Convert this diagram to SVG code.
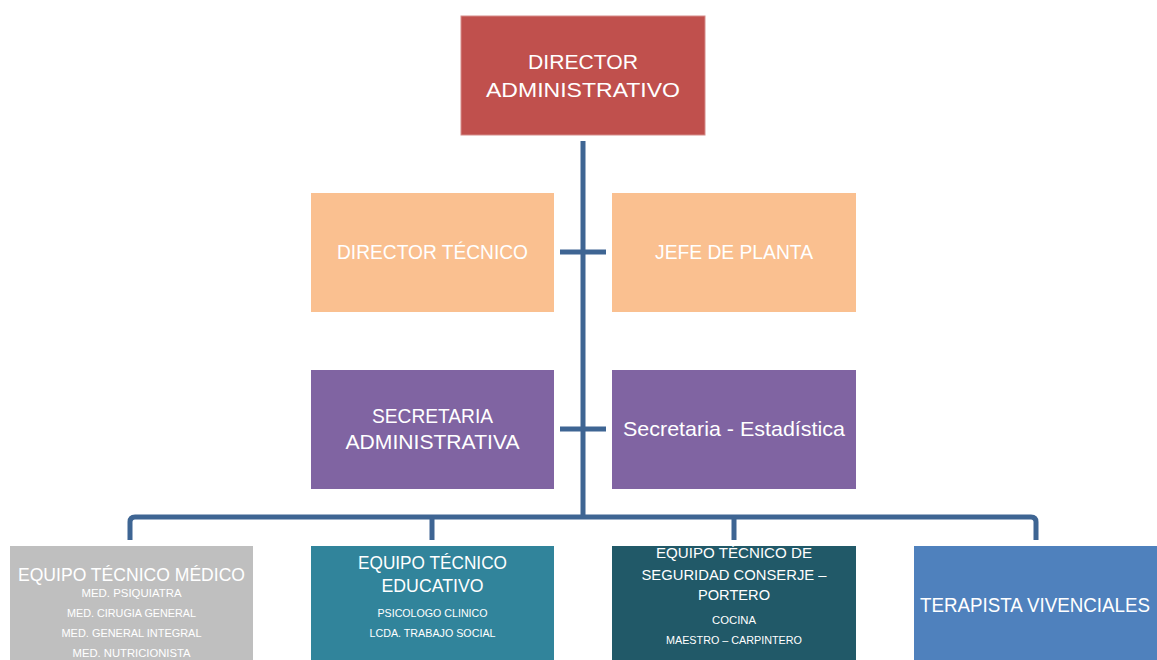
<svg xmlns="http://www.w3.org/2000/svg" width="1157" height="660" viewBox="0 0 1157 660">
<style>
text{font-family:"Liberation Sans",Arial,sans-serif;fill:#fff;text-anchor:middle}
.big{font-size:21px}
.mid{font-size:19px}
.sm{font-size:11.5px}
.ln{fill:none;stroke:#3E6593;stroke-width:5}
</style>
<rect width="1157" height="660" fill="#fff"/>
<g id="connectors">
<line class="ln" x1="583" y1="141" x2="583" y2="517"/>
<line class="ln" x1="560" y1="252" x2="606" y2="252"/>
<line class="ln" x1="560" y1="429" x2="606" y2="429"/>
<path class="ln" stroke-width="4" d="M130,540 V522 Q130,517 135,517 H1031 Q1036,517 1036,522 V540 M432,517 V540 M734,517 V540"/>
</g>
<g id="director-administrativo">
<rect x="461" y="16" width="244" height="119" fill="#C0504D" stroke="#D58C8A" stroke-width="1"/>
<text class="big" x="583" y="69" textLength="110" lengthAdjust="spacingAndGlyphs">DIRECTOR</text>
<text class="big" x="583" y="97" textLength="194" lengthAdjust="spacingAndGlyphs">ADMINISTRATIVO</text>
</g>
<g id="director-tecnico">
<rect x="311" y="193" width="243" height="119" fill="#FAC090"/>
<text class="big" x="432.5" y="259" textLength="191" lengthAdjust="spacingAndGlyphs">DIRECTOR TÉCNICO</text>
</g>
<g id="jefe-de-planta">
<rect x="612" y="193" width="244" height="119" fill="#FAC090"/>
<text class="big" x="734" y="259" textLength="158" lengthAdjust="spacingAndGlyphs">JEFE DE PLANTA</text>
</g>
<g id="secretaria-administrativa">
<rect x="311" y="370" width="243" height="119" fill="#8064A2"/>
<text class="big" x="432.5" y="423" textLength="121" lengthAdjust="spacingAndGlyphs">SECRETARIA</text>
<text class="big" x="432.5" y="449" textLength="174" lengthAdjust="spacingAndGlyphs">ADMINISTRATIVA</text>
</g>
<g id="secretaria-estadistica">
<rect x="612" y="370" width="244" height="119" fill="#8064A2"/>
<text class="big" x="734" y="436" textLength="222" lengthAdjust="spacingAndGlyphs">Secretaria - Estadística</text>
</g>
<g id="equipo-tecnico-medico">
<rect x="10" y="546" width="243" height="114" fill="#BFBFBF"/>
<text class="mid" x="131.5" y="581" textLength="227" lengthAdjust="spacingAndGlyphs">EQUIPO TÉCNICO MÉDICO</text>
<text class="sm" x="131.5" y="597" textLength="100" lengthAdjust="spacingAndGlyphs">MED. PSIQUIATRA</text>
<text class="sm" x="131.5" y="617" textLength="129" lengthAdjust="spacingAndGlyphs">MED. CIRUGIA GENERAL</text>
<text class="sm" x="131.5" y="637" textLength="140" lengthAdjust="spacingAndGlyphs">MED. GENERAL INTEGRAL</text>
<text class="sm" x="131.5" y="657" textLength="118" lengthAdjust="spacingAndGlyphs">MED. NUTRICIONISTA</text>
</g>
<g id="equipo-tecnico-educativo">
<rect x="311" y="546" width="243" height="114" fill="#31849B"/>
<text class="mid" x="432.5" y="569" textLength="149" lengthAdjust="spacingAndGlyphs">EQUIPO TÉCNICO</text>
<text class="mid" x="432.5" y="592" textLength="102" lengthAdjust="spacingAndGlyphs">EDUCATIVO</text>
<text class="sm" x="432.5" y="617" textLength="110" lengthAdjust="spacingAndGlyphs">PSICOLOGO CLINICO</text>
<text class="sm" x="432.5" y="637" textLength="126" lengthAdjust="spacingAndGlyphs">LCDA. TRABAJO SOCIAL</text>
</g>
<g id="equipo-tecnico-seguridad">
<rect x="612" y="546" width="244" height="114" fill="#215968"/>
<text class="sm" style="font-size:15px" x="734" y="558" textLength="156" lengthAdjust="spacingAndGlyphs">EQUIPO TÉCNICO  DE</text>
<text class="sm" style="font-size:15px" x="734" y="580" textLength="185" lengthAdjust="spacingAndGlyphs">SEGURIDAD CONSERJE –</text>
<text class="sm" style="font-size:15px" x="734" y="600" textLength="72" lengthAdjust="spacingAndGlyphs">PORTERO</text>
<text class="sm" x="734" y="624" textLength="44" lengthAdjust="spacingAndGlyphs">COCINA</text>
<text class="sm" x="734" y="644" textLength="136" lengthAdjust="spacingAndGlyphs">MAESTRO – CARPINTERO</text>
</g>
<g id="terapista-vivenciales">
<rect x="914" y="546" width="243" height="114" fill="#4F81BD"/>
<text class="big" style="font-size:19.5px" x="1035" y="612" textLength="230" lengthAdjust="spacingAndGlyphs">TERAPISTA VIVENCIALES</text>
</g>
</svg>
